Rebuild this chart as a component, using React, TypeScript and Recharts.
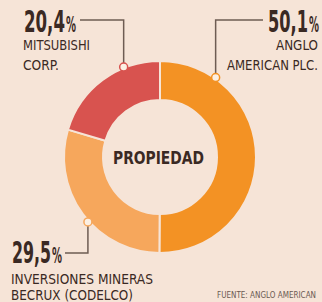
import React from 'react';
import { PieChart, Pie, Cell } from 'recharts';

const owners = ['ANGLO AMERICAN PLC.', 'INVERSIONES MINERAS BECRUX (CODELCO)', 'MITSUBISHI CORP.'];
const shares = [50.1, 29.5, 20.4];
const shareLabels = ['50,1', '29,5', '20,4'];
const nameLines = [
    ['ANGLO', 'AMERICAN PLC.'],
    ['INVERSIONES MINERAS', 'BECRUX (CODELCO)'],
    ['MITSUBISHI', 'CORP.'],
];

const data = owners.map((name, i) => ({ name, value: shares[i] }));

const COLORS = ['#F39224', '#F6A75C', '#D8534F'];
const BG = '#F6E4D7';
const INK = '#3A2923';
const LINE = '#6E5C53';
const FONT = '"DejaVu Sans", "Roboto", sans-serif';

// leader line layout: angle of the dot on the ring, elbow, left edge of text block and widths
const layout = [
    { angle: 55, elbowY: 20, endX: 263, left: 268, ty: 32, right: true, numW: 40, lineY: [50, 70], lineW: [42, 91] },
    { angle: 222, elbowY: 253, endX: 65, left: 12, ty: 263, right: false, numW: 39, lineY: [284, 300], lineW: [142, 122] },
    { angle: 112, elbowY: 20, endX: 80, left: 24, ty: 32, right: false, numW: 41, lineY: [50, 70], lineW: [67, 36] },
];
const PCT_W = 10;

const RADIAN = Math.PI / 180;

const renderLabel = (props: any) => {
    const { cx, cy, outerRadius, index } = props;
    const l = layout[index];
    const r = outerRadius + 1;
    const x = cx + r * Math.cos(l.angle * RADIAN);
    const y = cy - r * Math.sin(l.angle * RADIAN);
    const lines = nameLines[index];
    const textX = l.right ? 318 : l.left - 1;
    return (
        <g key={`lbl-${index}`}>
            <polyline
                points={`${x},${y} ${x},${l.elbowY} ${l.endX},${l.elbowY}`}
                fill="none"
                stroke={LINE}
                strokeWidth={1.5}
            />
            <circle cx={x} cy={y} r={4} fill="#FBEFE3" stroke={COLORS[index]} strokeWidth={1.5} />
            <text
                x={l.left}
                y={l.ty}
                fill={INK}
                fontFamily={FONT}
                fontStretch="condensed"
                fontWeight="bold"
                fontSize={31}
                textLength={l.numW}
                lengthAdjust="spacingAndGlyphs"
            >
                {shareLabels[index]}
            </text>
            <text
                x={l.left + l.numW + 1}
                y={l.ty}
                fill={INK}
                fontFamily={FONT}
                fontStretch="condensed"
                fontWeight="bold"
                fontSize={21}
                textLength={PCT_W}
                lengthAdjust="spacingAndGlyphs"
            >
                %
            </text>
            {lines.map((t, j) => (
                <text
                    key={t}
                    x={textX}
                    y={l.lineY[j]}
                    textAnchor={l.right ? 'end' : 'start'}
                    fill={INK}
                    fontFamily={FONT}
                    fontStretch="condensed"
                    fontSize={14.5}
                    textLength={l.lineW[j]}
                    lengthAdjust="spacingAndGlyphs"
                >
                    {t}
                </text>
            ))}
        </g>
    );
};

const App: React.FC = () => {
    return (
        <div style={{ position: 'fixed', left: 0, top: 0, width: 322, height: 302, background: BG }}>
            <PieChart width={322} height={302} margin={{ top: 0, right: 0, bottom: 0, left: 0 }}>
                <Pie
                    data={data}
                    dataKey="value"
                    nameKey="name"
                    cx={160}
                    cy={157}
                    innerRadius={57}
                    outerRadius={96}
                    startAngle={90}
                    endAngle={-270}
                    stroke={BG}
                    strokeWidth={2}
                    label={renderLabel}
                    labelLine={false}
                    isAnimationActive={false}
                >
                    {data.map((d, i) => (
                        <Cell key={d.name} fill={COLORS[i]} />
                    ))}
                </Pie>
                <text
                    x={158.5}
                    y={164}
                    textAnchor="middle"
                    fill={INK}
                    fontFamily={FONT}
                    fontStretch="condensed"
                    fontWeight="bold"
                    fontSize={18}
                    textLength={91}
                    lengthAdjust="spacingAndGlyphs"
                >
                    PROPIEDAD
                </text>
                <text
                    x={316}
                    y={298}
                    textAnchor="end"
                    fill="#6A5A52"
                    fontFamily={FONT}
                    fontSize={9.5}
                    textLength={99}
                    lengthAdjust="spacingAndGlyphs"
                >
                    FUENTE: ANGLO AMERICAN
                </text>
            </PieChart>
        </div>
    );
};

export default App;
